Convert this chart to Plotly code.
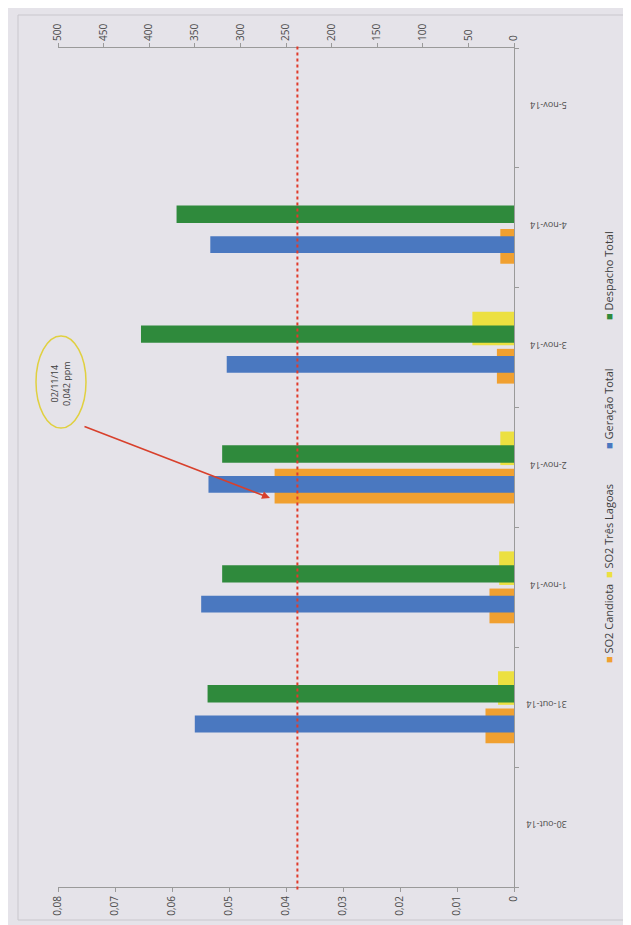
import plotly.graph_objects as go

# ---------------- data ----------------
categories = ["30-out-14", "31-out-14", "1-nov-14", "2-nov-14", "3-nov-14", "4-nov-14", "5-nov-14"]
so2_candiota = [0, 0.0050, 0.0043, 0.042, 0.0030, 0.0024, 0]
so2_tres_lagoas = [0, 0.0028, 0.0026, 0.0024, 0.0073, 0, 0]
geracao_total = [0, 350, 343, 335, 315, 333, 0]
despacho_total = [0, 336, 320, 320, 409, 370, 0]
limit_ppm = 0.038

primary_ticks = [0, 0.01, 0.02, 0.03, 0.04, 0.05, 0.06, 0.07, 0.08]
primary_ticktext = ["0", "0,01", "0,02", "0,03", "0,04", "0,05", "0,06", "0,07", "0,08"]
secondary_ticks = [0, 50, 100, 150, 200, 250, 300, 350, 400, 450, 500]

legend_names = ["SO2 Candiota", "SO2 Três Lagoas", "Geração Total", "Despacho Total"]
colors = ["#f0a030", "#ece040", "#4a78c0", "#2f8a3c"]

note_text = "02/11/14<br>0,042 ppm"

# ---------------- geometry helpers (pixel -> paper) ----------------
W, H = 631, 925
L, R, T, B = 50, 506, 40, 879


def px(xp):
    return (xp - L) / (R - L)


def py(yp):
    return (B - yp) / (B - T)


fig = go.Figure()

# primary-axis (SO2) bars: wide
fig.add_trace(go.Bar(y=categories, x=so2_candiota, orientation="h", name=legend_names[0],
                     marker=dict(color=colors[0], line=dict(width=0)),
                     offset=-0.30, width=0.29, xaxis="x", yaxis="y"))
fig.add_trace(go.Bar(y=categories, x=so2_tres_lagoas, orientation="h", name=legend_names[1],
                     marker=dict(color=colors[1], line=dict(width=0)),
                     offset=0.02, width=0.28, xaxis="x", yaxis="y"))
# secondary-axis bars: narrow
fig.add_trace(go.Bar(y=categories, x=geracao_total, orientation="h", name=legend_names[2],
                     marker=dict(color=colors[2], line=dict(width=0)),
                     offset=-0.21, width=0.14, xaxis="x2", yaxis="y"))
fig.add_trace(go.Bar(y=categories, x=despacho_total, orientation="h", name=legend_names[3],
                     marker=dict(color=colors[3], line=dict(width=0)),
                     offset=0.04, width=0.145, xaxis="x2", yaxis="y"))

bg = "#e5e3e9"
FONT = "Open Sans, Liberation Sans, sans-serif"
tickfont = dict(family=FONT, size=10, color="#4a4a4a")

fig.update_layout(
    width=W, height=H,
    margin=dict(l=L, r=W - R, t=T, b=H - B),
    paper_bgcolor=bg, plot_bgcolor=bg,
    showlegend=False,
    barmode="overlay",
    xaxis=dict(range=[0.08, 0], tickvals=primary_ticks, ticktext=primary_ticktext,
               tickangle=-90, ticks="outside", ticklen=4, tickcolor="#9a9a9a",
               showline=True, linecolor="#9a9a9a", linewidth=1, showgrid=False,
               zeroline=False, tickfont=tickfont, side="bottom"),
    xaxis2=dict(range=[500, 0], tickvals=secondary_ticks, tickangle=-90,
                ticks="outside", ticklen=4, tickcolor="#9a9a9a",
                showline=True, linecolor="#9a9a9a", linewidth=1, showgrid=False,
                zeroline=False, tickfont=tickfont, side="top", overlaying="x"),
    yaxis=dict(type="category", categoryorder="array", categoryarray=categories,
               range=[-0.5, 6.5], side="right", tickangle=180,
               ticks="outside", tickson="boundaries", ticklen=4, tickcolor="#9a9a9a",
               showline=True, linecolor="#9a9a9a", linewidth=1, showgrid=False,
               tickfont=dict(family=FONT, size=9, color="#4a4a4a"),
               ticklabelstandoff=50),
)

shapes = []
# chart-area frame
shapes.append(dict(type="rect", xref="paper", yref="paper", x0=px(10), x1=px(619), y0=py(912), y1=py(7),
                   line=dict(color="#c9c7cd", width=1), layer="below"))
# background beyond the paper sheet (photo edge)
shapes.append(dict(type="rect", xref="paper", yref="paper", x0=px(620), x1=px(631), y0=py(470), y1=py(0),
                   fillcolor="#3f70b4", line=dict(width=0), layer="below"))
shapes.append(dict(type="rect", xref="paper", yref="paper", x0=px(620), x1=px(631), y0=py(925), y1=py(470),
                   fillcolor="#5e8e30", line=dict(width=0), layer="below"))
# limit line
shapes.append(dict(type="line", xref="x", yref="paper", x0=limit_ppm, x1=limit_ppm, y0=-0.003, y1=1.003,
                   line=dict(color="#e03a2a", width=2, dash="dot")))
# ellipse around note
shapes.append(dict(type="circle", xref="paper", yref="paper", x0=px(28), x1=px(78), y0=py(420), y1=py(328),
                   line=dict(color="#e0d040", width=1.5)))
fig.update_layout(shapes=shapes)

annotations = []
# rotated legend: coloured square + name in one rotated text
legend_center_y = [616, 523, 401, 268]
for name, c, cy in zip(legend_names, colors, legend_center_y):
    annotations.append(dict(text=f"<span style='color:{c}'>■</span> {name}", xref="paper", yref="paper",
                            x=px(600), y=py(cy), showarrow=False, textangle=-90,
                            xanchor="center", yanchor="middle",
                            font=dict(family=FONT, size=11, color="#404040")))
# note text
annotations.append(dict(text=note_text, xref="paper", yref="paper", x=px(52), y=py(376),
                        showarrow=False, textangle=-90, xanchor="center", yanchor="middle",
                        font=dict(family=FONT, size=9, color="#404040")))
# arrow
annotations.append(dict(text="", xref="paper", yref="paper", x=px(262), y=py(490),
                        showarrow=True, arrowhead=2, arrowsize=1, arrowwidth=1.6, arrowcolor="#d8402c",
                        ax=-187, ay=-72, axref="pixel", ayref="pixel"))
fig.update_layout(annotations=annotations)

fig.write_html("out.html")
